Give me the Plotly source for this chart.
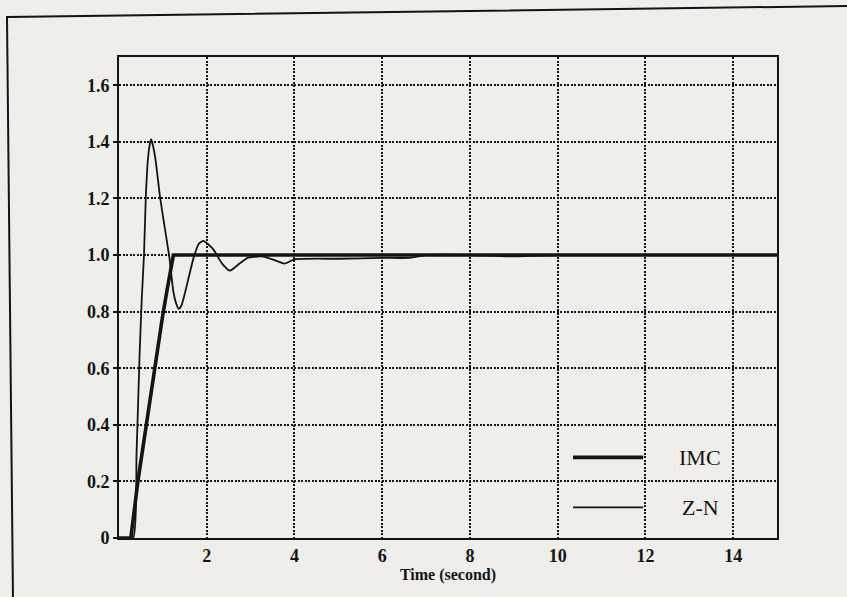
import plotly.graph_objects as go

# ---- data ----
imc_t = [0.0, 0.27, 0.43, 0.62, 0.81, 0.99, 1.10, 1.24, 2.0, 4.0, 6.0, 8.0, 10.0, 12.0, 14.0, 15.0]
imc_y = [0.0, 0.0, 0.20, 0.40, 0.60, 0.78, 0.88, 1.00, 1.0, 1.0, 1.0, 1.0, 1.0, 1.0, 1.0, 1.0]

zn_t = [0.0, 0.32, 0.40, 0.47, 0.52, 0.57, 0.61, 0.66, 0.70, 0.73, 0.77, 0.83, 0.94, 1.06, 1.15, 1.24,
        1.30, 1.36, 1.42, 1.51, 1.70, 1.82, 1.92, 2.02, 2.15, 2.35, 2.53, 2.75, 2.93, 3.25, 3.50,
        3.77, 4.0, 5.0, 6.0, 6.6, 7.0, 8.0, 9.0, 10.0, 12.0, 14.0, 15.0]
zn_y = [0.0, 0.0, 0.30, 0.65, 0.85, 1.00, 1.20, 1.34, 1.39, 1.41, 1.39, 1.34, 1.20, 1.08, 0.99, 0.87,
        0.83, 0.81, 0.82, 0.87, 0.99, 1.04, 1.05, 1.04, 1.02, 0.97, 0.945, 0.97, 0.99, 0.995, 0.985,
        0.97, 0.985, 0.987, 0.99, 0.99, 1.0, 1.0, 0.995, 1.0, 1.0, 1.0, 1.0]

x_ticks = [2, 4, 6, 8, 10, 12, 14]
y_ticks = [0, 0.2, 0.4, 0.6, 0.8, 1.0, 1.2, 1.4, 1.6]
y_ticktext = ["0", "0.2", "0.4", "0.6", "0.8", "1.0", "1.2", "1.4", "1.6"]
series_names = ["IMC", "Z-N"]

W, H = 847, 597
L, R, T, B = 119, 70, 57, 59
pw, ph = W - L - R, H - T - B

def px(xp):
    return (xp - L) / pw

def py(yp):
    return (H - B - yp) / ph

INK = "#141414"
BG = "#efeeeb"
SERIF = "Liberation Serif, Times New Roman, serif"

fig = go.Figure()
fig.add_trace(go.Scatter(x=zn_t, y=zn_y, mode="lines", name=series_names[1],
                         line=dict(color=INK, width=1.8, shape="spline", smoothing=0.5)))
fig.add_trace(go.Scatter(x=imc_t, y=imc_y, mode="lines", name=series_names[0],
                         line=dict(color=INK, width=3.6)))

axis_common = dict(
    showline=True, linecolor=INK, linewidth=2, mirror=True,
    showgrid=True, gridcolor=INK, gridwidth=1.5, griddash="2px,1.5px",
    zeroline=False, ticks="outside", ticklen=4, tickcolor=INK, tickwidth=1.5,
)

fig.update_xaxes(range=[0, 15], tickvals=x_ticks, ticktext=[str(v) for v in x_ticks],
                 title=dict(text="<b>Time (second)</b>", font=dict(family=SERIF, size=16, color=INK), standoff=4),
                 **axis_common)
fig.update_yaxes(range=[0, 1.7], tickvals=y_ticks, ticktext=y_ticktext, **axis_common)
fig.update_xaxes(tickfont=dict(family=SERIF, size=18, color=INK, weight="bold"), ticks="")
fig.update_yaxes(tickfont=dict(family=SERIF, size=18, color=INK, weight="bold"))

shapes = [
    # outer frame of the scanned figure
    dict(type="path", xref="paper", yref="paper",
         path=f"M {px(13)},{py(600)} L {px(7)},{py(17)} L {px(850)},{py(6)}",
         line=dict(color=INK, width=2)),
    # legend keys
    dict(type="line", xref="x", yref="y", x0=10.35, x1=11.95, y0=0.285, y1=0.285,
         line=dict(color=INK, width=3.6)),
    dict(type="line", xref="x", yref="y", x0=10.35, x1=11.95, y0=0.108, y1=0.108,
         line=dict(color=INK, width=1.8)),
]
annotations = [
    dict(x=13.25, y=0.285, xref="x", yref="y", text=series_names[0], showarrow=False,
         font=dict(family=SERIF, size=22, color=INK)),
    dict(x=13.25, y=0.108, xref="x", yref="y", text=series_names[1], showarrow=False,
         font=dict(family=SERIF, size=22, color=INK)),
]

fig.update_layout(
    width=W, height=H,
    margin=dict(l=L, r=R, t=T, b=B),
    paper_bgcolor=BG, plot_bgcolor=BG,
    showlegend=False,
    shapes=shapes, annotations=annotations,
)

fig.write_html("out.html")
